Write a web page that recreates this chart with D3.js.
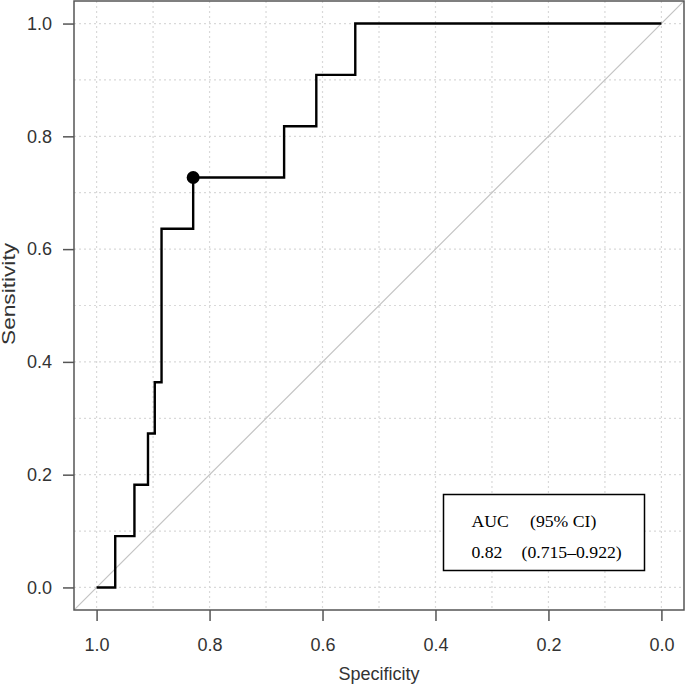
<!DOCTYPE html>
<html>
<head>
<meta charset="utf-8">
<script src="https://cdn.jsdelivr.net/npm/d3@7"></script>
<style>
body { margin: 0; background: #fff; }
svg { display: block; }
</style>
</head>
<body>
<svg id="chart" width="685" height="688"></svg>
<script>
// ROC curve coordinates
var specificity = [1.0, 0.967, 0.967, 0.933, 0.933, 0.909, 0.909, 0.897, 0.897, 0.885, 0.885, 0.829, 0.829, 0.668, 0.668, 0.611, 0.611, 0.542, 0.542, 0.0];
var sensitivity = [0.0, 0.0, 0.091, 0.091, 0.182, 0.182, 0.273, 0.273, 0.364, 0.364, 0.636, 0.636, 0.727, 0.727, 0.818, 0.818, 0.909, 0.909, 1.0, 1.0];
var bestPoint = {spec: 0.829, sens: 0.727};
var ticks = [0, 0.2, 0.4, 0.6, 0.8, 1.0];
var gridTicks = [0, 0.1, 0.2, 0.3, 0.4, 0.5, 0.6, 0.7, 0.8, 0.9, 1.0];
var legendRows = [["AUC", "(95% CI)"], ["0.82", "(0.715\u20130.922)"]];

var svg = d3.select("#chart");
var box = {left: 74, top: 1, right: 684, bottom: 610};

// R style: data range padded by 4%
var xScale = d3.scaleLinear().domain([1.04, -0.04]).range([box.left, box.right]);
var yScale = d3.scaleLinear().domain([-0.04, 1.04]).range([box.bottom, box.top]);

svg.append("defs").append("clipPath").attr("id", "clip")
	.append("rect")
	.attr("x", box.left).attr("y", box.top)
	.attr("width", box.right - box.left).attr("height", box.bottom - box.top);

// grid
var grid = svg.append("g").attr("class", "grid");
grid.selectAll("line.v")
	.data(gridTicks)
	.enter()
	.append("line")
	.attr("x1", function(d){ return xScale(d); })
	.attr("x2", function(d){ return xScale(d); })
	.attr("y1", box.top)
	.attr("y2", box.bottom)
	.style("stroke", "#d9d9d9")
	.style("stroke-width", 1.2)
	.style("stroke-dasharray", "2,3");
grid.selectAll("line.h")
	.data(gridTicks)
	.enter()
	.append("line")
	.attr("y1", function(d){ return yScale(d); })
	.attr("y2", function(d){ return yScale(d); })
	.attr("x1", box.left)
	.attr("x2", box.right)
	.style("stroke", "#d9d9d9")
	.style("stroke-width", 1.2)
	.style("stroke-dasharray", "2,3");

// chance diagonal
svg.append("line")
	.attr("clip-path", "url(#clip)")
	.attr("x1", xScale(1.04)).attr("y1", yScale(-0.04))
	.attr("x2", xScale(-0.04)).attr("y2", yScale(1.04))
	.style("stroke", "#c4c4c4")
	.style("stroke-width", 1.2);

// ROC curve
var pts = specificity.map(function(s, i){ return [s, sensitivity[i]]; });
var line = d3.line()
	.x(function(d){ return xScale(d[0]); })
	.y(function(d){ return yScale(d[1]); });
svg.append("path")
	.datum(pts)
	.attr("d", line)
	.style("fill", "none")
	.style("stroke", "#000")
	.style("stroke-width", 2.4)
	.style("stroke-linejoin", "miter");

svg.append("circle")
	.attr("cx", xScale(bestPoint.spec))
	.attr("cy", yScale(bestPoint.sens))
	.attr("r", 6.5)
	.style("fill", "#000");

// frame
svg.append("rect")
	.attr("x", box.left).attr("y", box.top)
	.attr("width", box.right - box.left).attr("height", box.bottom - box.top)
	.style("fill", "none")
	.style("stroke", "#555")
	.style("stroke-width", 1.5);

// axes
var xAxis = d3.axisBottom(xScale).tickValues(ticks).tickSize(11).tickFormat(d3.format(".1f"));
var yAxis = d3.axisLeft(yScale).tickValues(ticks).tickSize(11).tickFormat(d3.format(".1f"));

var gx = svg.append("g").attr("transform", "translate(0," + box.bottom + ")").call(xAxis);
var gy = svg.append("g").attr("transform", "translate(" + box.left + ",0)").call(yAxis);
[gx, gy].forEach(function(g){
	g.select(".domain").remove();
	g.selectAll(".tick line").style("stroke", "#555").style("stroke-width", 1.5);
	g.selectAll(".tick text")
		.style("font-family", "'Liberation Sans', Arial, sans-serif")
		.style("font-size", "18px")
		.style("fill", "#333");
});
gx.selectAll(".tick text").attr("y", 28);
gy.selectAll(".tick text").attr("x", -22);

svg.append("text")
	.attr("x", (box.left + box.right) / 2)
	.attr("y", 680)
	.attr("text-anchor", "middle")
	.style("font-family", "'Liberation Sans', Arial, sans-serif")
	.style("font-size", "18px")
	.style("fill", "#333")
	.text("Specificity");

// y label is drawn taller in the reference, so stretch it
svg.append("text")
	.attr("transform", "translate(15,294) rotate(-90)")
	.attr("text-anchor", "middle")
	.attr("textLength", 102)
	.attr("lengthAdjust", "spacingAndGlyphs")
	.style("font-family", "'Liberation Sans', Arial, sans-serif")
	.style("font-size", "18px")
	.style("fill", "#333")
	.text("Sensitivity");

// legend box
var legend = svg.append("g");
legend.append("rect")
	.attr("x", 443.5).attr("y", 494.5)
	.attr("width", 201).attr("height", 76)
	.style("fill", "#fff")
	.style("stroke", "#000")
	.style("stroke-width", 1.5);
var colX = [[471.5, 530], [471.5, 521.5]];
legendRows.forEach(function(row, i){
	row.forEach(function(t, j){
		legend.append("text")
			.attr("x", colX[i][j])
			.attr("y", 526.7 + i * 31.6)
			.style("font-family", "'Liberation Serif', 'Times New Roman', serif")
			.style("font-size", "17.7px")
			.style("fill", "#000")
			.text(t);
	});
});
</script>
</body>
</html>
